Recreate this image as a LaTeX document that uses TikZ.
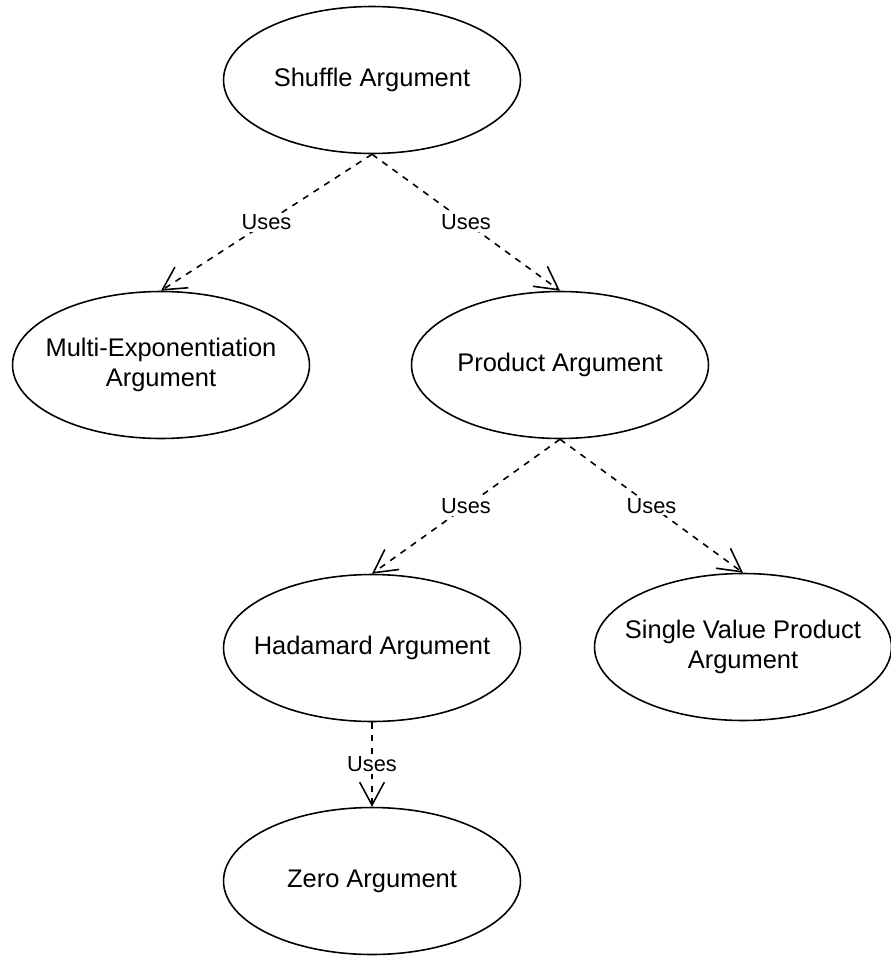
\documentclass[tikz,border=0pt]{standalone}
\usepackage{fontspec}
\setmainfont{Liberation Sans}
\usepackage{tikz}
\usetikzlibrary{shapes.geometric, arrows.meta}

\begin{document}
\begin{tikzpicture}[
    x=0.02cm, y=-0.02cm,
    usecase/.style={ellipse, draw, line width=0.9pt, minimum width=5.94cm, minimum height=2.94cm,
        inner xsep=-3cm, inner ysep=-2cm, align=center, font=\fontsize{14.5}{17}\selectfont},
    uses/.style={dashed, dash pattern=on 3.6pt off 3.6pt, line width=0.9pt,
        -{Straight Barb[length=13pt, width=14pt, line width=0.9pt]}},
    useslabel/.style={fill=white, inner sep=1pt, font=\fontsize{12.4}{15}\selectfont}
]
    % Fix the frame of the picture
    \useasboundingbox (0, 0) rectangle (890, 957);

    % Use cases
    \node[usecase] (shuffle)  at (372, 80)  {Shuffle Argument};
    \node[usecase] (multiexp) at (161, 365) {Multi-Exponentiation\\Argument};
    \node[usecase] (product)  at (560, 365) {Product Argument};
    \node[usecase] (hadamard) at (372, 648) {Hadamard Argument};
    \node[usecase] (single)   at (743, 647) {Single Value Product\\Argument};
    \node[usecase] (zero)     at (372, 881) {Zero Argument};

    % Dependencies
    \draw[uses] (shuffle.south) -- node[useslabel] {Uses} (multiexp.north);
    \draw[uses] (shuffle.south) -- node[useslabel] {Uses} (product.north);
    \draw[uses] (product.south) -- node[useslabel] {Uses} (hadamard.north);
    \draw[uses] (product.south) -- node[useslabel] {Uses} (single.north);
    \draw[uses] (hadamard.south) -- node[useslabel] {Uses} (zero.north);
\end{tikzpicture}
\end{document}
